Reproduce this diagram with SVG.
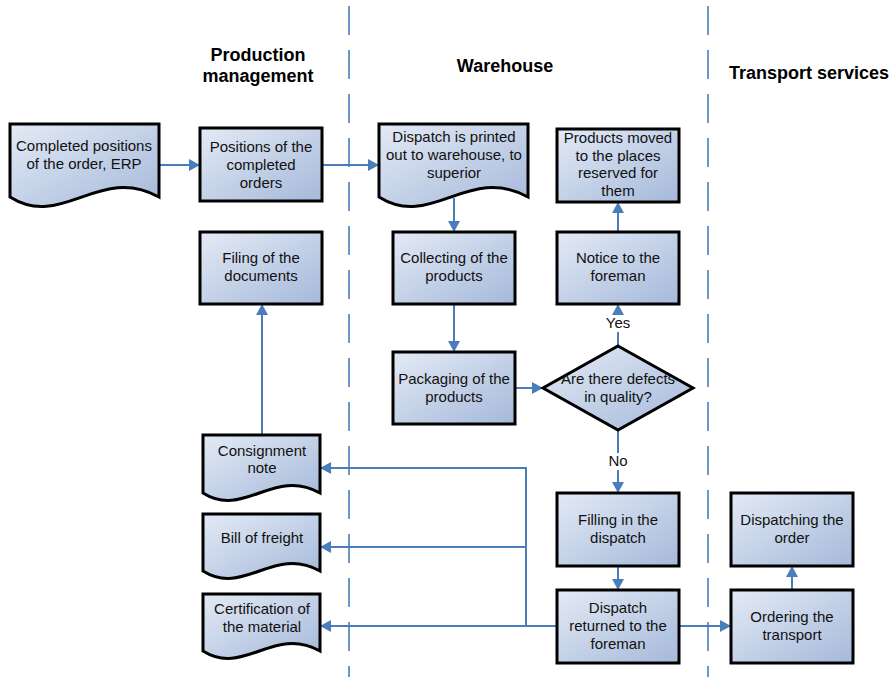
<svg xmlns="http://www.w3.org/2000/svg" width="891" height="677" viewBox="0 0 891 677">
  <defs>
    <linearGradient id="fill" x1="0" y1="0" x2="1" y2="1">
      <stop offset="0" stop-color="#e3eaf5"/>
      <stop offset="1" stop-color="#a5b9da"/>
    </linearGradient>
    <marker id="arrow" markerUnits="userSpaceOnUse" markerWidth="11" markerHeight="12" refX="11" refY="6" orient="auto">
      <path d="M0,0 L11,6 L0,12 z" fill="#4a7ebb"/>
    </marker>
    <style>
      .shape { fill: url(#fill); stroke: #000; stroke-width: 3; stroke-linejoin: miter; }
      .lbl { font-family: "Liberation Sans", Arial, sans-serif; font-size: 15px; fill: #111; text-anchor: middle; }
      .hdr { font-family: "Liberation Sans", Arial, sans-serif; font-size: 18px; font-weight: bold; fill: #000; text-anchor: middle; }
      .lane { stroke: #4a7ebb; stroke-width: 1.6; stroke-dasharray: 29 15; fill: none; }
      .conn { stroke: #4a7ebb; stroke-width: 2; fill: none; }
      .arr { marker-end: url(#arrow); }
    </style>
  </defs>

  <rect width="891" height="677" fill="#fff"/>

  <!-- swimlane separators -->
  <g id="lanes">
    <line class="lane" x1="349" y1="6" x2="349" y2="677"/>
    <line class="lane" x1="708" y1="6" x2="708" y2="677"/>
  </g>

  <!-- lane headings -->
  <g id="headers">
    <text class="hdr" x="258" y="61">Production</text>
    <text class="hdr" x="258" y="82">management</text>
    <text class="hdr" x="505" y="72">Warehouse</text>
    <text class="hdr" x="729" y="79" style="text-anchor:start">Transport services</text>
  </g>

  <!-- connectors -->
  <g id="connectors">
    <line class="conn arr" x1="159" y1="165" x2="200" y2="165"/>
    <line class="conn arr" x1="322" y1="165" x2="379" y2="165"/>
    <line class="conn arr" x1="454" y1="198" x2="454" y2="232"/>
    <line class="conn arr" x1="454" y1="304" x2="454" y2="352"/>
    <line class="conn arr" x1="515" y1="388" x2="543" y2="388"/>
    <line class="conn arr" x1="618" y1="346" x2="618" y2="304"/>
    <line class="conn arr" x1="618" y1="232" x2="618" y2="202"/>
    <line class="conn arr" x1="618" y1="430" x2="618" y2="493"/>
    <line class="conn arr" x1="618" y1="566" x2="618" y2="590"/>
    <line class="conn arr" x1="679" y1="626" x2="731" y2="626"/>
    <line class="conn arr" x1="792" y1="590" x2="792" y2="566"/>
    <line class="conn arr" x1="262" y1="435" x2="262" y2="304"/>
    <line class="conn arr" x1="557" y1="626" x2="320" y2="626"/>
    <polyline class="conn arr" points="526,626 526,468 320,468"/>
    <line class="conn arr" x1="526" y1="547" x2="320" y2="547"/>
    <!-- branch labels -->
    <rect x="602" y="315" width="32" height="17" fill="#fff"/>
    <text class="lbl" x="618" y="328">Yes</text>
    <rect x="605" y="453" width="27" height="17" fill="#fff"/>
    <text class="lbl" x="618" y="466">No</text>
  </g>

  <!-- nodes -->
  <g id="completed-positions">
    <path class="shape" d="M10,124 H159 V197 C99.4,164 62.2,230 10,197 Z"/>
    <text class="lbl" x="84" y="151">Completed positions</text>
    <text class="lbl" x="84" y="169">of the order, ERP</text>
  </g>

  <g id="positions-completed">
    <rect class="shape" x="200" y="128" width="122" height="73"/>
    <text class="lbl" x="261" y="152">Positions of the</text>
    <text class="lbl" x="261" y="170">completed</text>
    <text class="lbl" x="261" y="188">orders</text>
  </g>

  <g id="dispatch-printed">
    <path class="shape" d="M379,124 H528 V197 C468.4,164 431.2,230 379,197 Z"/>
    <text class="lbl" x="454" y="142">Dispatch is printed</text>
    <text class="lbl" x="454" y="160">out to warehouse, to</text>
    <text class="lbl" x="454" y="178">superior</text>
  </g>

  <g id="products-moved">
    <rect class="shape" x="557" y="129" width="122" height="73"/>
    <text class="lbl" x="618" y="143">Products moved</text>
    <text class="lbl" x="618" y="161">to the places</text>
    <text class="lbl" x="618" y="178">reserved for</text>
    <text class="lbl" x="618" y="196">them</text>
  </g>

  <g id="filing">
    <rect class="shape" x="200" y="232" width="122" height="72"/>
    <text class="lbl" x="261" y="263">Filing of the</text>
    <text class="lbl" x="261" y="281">documents</text>
  </g>

  <g id="collecting">
    <rect class="shape" x="393" y="232" width="122" height="72"/>
    <text class="lbl" x="454" y="263">Collecting of the</text>
    <text class="lbl" x="454" y="281">products</text>
  </g>

  <g id="notice-foreman">
    <rect class="shape" x="557" y="232" width="122" height="72"/>
    <text class="lbl" x="618" y="263">Notice to the</text>
    <text class="lbl" x="618" y="281">foreman</text>
  </g>

  <g id="packaging">
    <rect class="shape" x="393" y="352" width="122" height="72"/>
    <text class="lbl" x="454" y="384">Packaging of the</text>
    <text class="lbl" x="454" y="402">products</text>
  </g>

  <g id="defects-decision">
    <path class="shape" d="M618,346 L693,388 L618,430 L543,388 Z"/>
    <text class="lbl" x="618" y="384">Are there defects</text>
    <text class="lbl" x="618" y="402">in quality?</text>
  </g>

  <g id="consignment-note">
    <path class="shape" d="M203,435 H320 V493 C273.2,467 244,519 203,493 Z"/>
    <text class="lbl" x="262" y="456">Consignment</text>
    <text class="lbl" x="262" y="473">note</text>
  </g>

  <g id="bill-of-freight">
    <path class="shape" d="M203,514 H320 V571 C273.2,545 244,597 203,571 Z"/>
    <text class="lbl" x="262" y="543">Bill of freight</text>
  </g>

  <g id="certification">
    <path class="shape" d="M203,594 H320 V651 C273.2,625 244,677 203,651 Z"/>
    <text class="lbl" x="262" y="614">Certification of</text>
    <text class="lbl" x="262" y="632">the material</text>
  </g>

  <g id="filling-dispatch">
    <rect class="shape" x="557" y="493" width="122" height="73"/>
    <text class="lbl" x="618" y="525">Filling in the</text>
    <text class="lbl" x="618" y="543">dispatch</text>
  </g>

  <g id="dispatch-returned">
    <rect class="shape" x="557" y="590" width="122" height="73"/>
    <text class="lbl" x="618" y="613">Dispatch</text>
    <text class="lbl" x="618" y="631">returned to the</text>
    <text class="lbl" x="618" y="649">foreman</text>
  </g>

  <g id="dispatching-order">
    <rect class="shape" x="731" y="493" width="122" height="73"/>
    <text class="lbl" x="792" y="525">Dispatching the</text>
    <text class="lbl" x="792" y="543">order</text>
  </g>

  <g id="ordering-transport">
    <rect class="shape" x="731" y="590" width="122" height="73"/>
    <text class="lbl" x="792" y="622">Ordering the</text>
    <text class="lbl" x="792" y="640">transport</text>
  </g>
</svg>
